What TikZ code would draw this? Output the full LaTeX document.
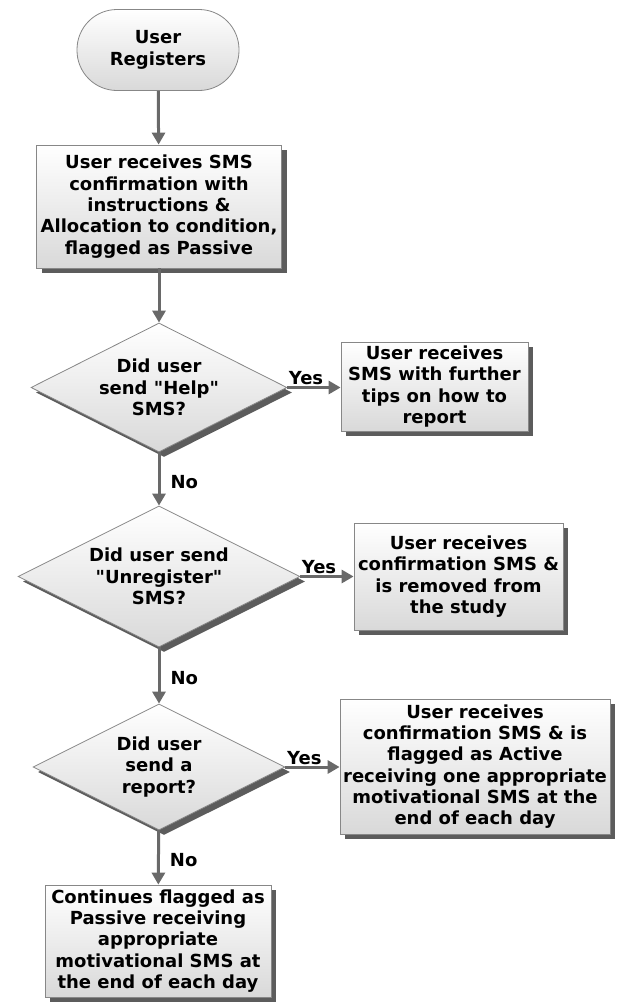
\documentclass[tikz,border=0pt]{standalone}
\usepackage{fontspec}
\setmainfont{DejaVu Sans}[Ligatures=TeXOff]
\usepackage{xcolor}
\usepackage{tikz}
\usetikzlibrary{positioning,calc,shapes.geometric,shadows,arrows.meta}
\definecolor{FlowGray}{RGB}{105,105,105}
\definecolor{EdgeGray}{RGB}{135,135,135}
\newcommand{\flowfont}{\bfseries\fontsize{18}{21.3}\selectfont}
\tikzset{
    flowbox/.style={rectangle, draw=EdgeGray, thick, top color=white, bottom color=black!15, align=center, inner sep=2pt, font=\flowfont,
        drop shadow={shadow xshift=5pt, shadow yshift=-5pt, opacity=0.75, fill=black!85}},
    flowarrow/.style={draw=FlowGray, line width=3pt, -{Triangle[length=12pt, width=13pt]}}
}

\begin{document}
\begin{tikzpicture}[
                x=1pt, y=-1pt,
                % Style for the start node (rounded, gray border)
                startnode/.style={
                    rectangle,
                    rounded corners=40pt,
                    draw=EdgeGray, thick,
                    top color=white, bottom color=black!15,
                    align=center,
                    font=\flowfont
                },
                % Style for the questions (diamond with shadow)
                question/.style={
                    diamond, aspect=2,
                    draw=EdgeGray, thick,
                    top color=white, bottom color=black!15,
                    align=center,
                    inner sep=0pt,
                    font=\flowfont,
                    drop shadow={shadow xshift=5pt, shadow yshift=-5pt, opacity=0.75, fill=black!85}
                },
                % Style for Yes / No labels on the arrows
                answer/.style={
                    font=\flowfont,
                    inner sep=1pt
                }
            ]
                \useasboundingbox (0,0) rectangle (618,1002);

                % --- NODES ---
                \node[startnode, minimum width=162pt, minimum height=81pt] (reg) at (158,50) {User\\Registers};
                \node[flowbox, minimum width=245pt, minimum height=123pt] (confirm) at (159,206.5)
                    {User receives SMS\\confirmation with\\instructions \&\\Allocation to condition,\\flagged as Passive};
                % first question
                \node[question, minimum width=256pt, minimum height=129pt] (help) at (159,387.5) {Did user\\send "Help"\\SMS?};
                \node[flowbox, minimum width=187pt, minimum height=89pt] (tips) at (434.5,386.5)
                    {User receives\\SMS with further\\tips on how to\\report};
                % second question
                \node[question, minimum width=282pt, minimum height=141pt] (unreg) at (159,576.5) {Did user send\\"Unregister"\\SMS?};
                \node[flowbox, minimum width=209pt, minimum height=107pt] (removed) at (458.5,576.5)
                    {User receives\\confirmation SMS \&\\is removed from\\the study};
                % third question
                \node[question, minimum width=252pt, minimum height=126pt] (report) at (159,767) {Did user\\send a\\report?};
                \node[flowbox, minimum width=270pt, minimum height=135pt] (active) at (475,766.5)
                    {User receives\\confirmation SMS \& is\\flagged as Active\\receiving one appropriate\\motivational SMS at the\\end of each day};
                \node[flowbox, minimum width=226pt, minimum height=112pt] (passive) at (158,941)
                    {Continues flagged as\\Passive receiving\\appropriate\\motivational SMS at\\the end of each day};

                % --- ARROWS ---
                \draw[flowarrow] (reg) -- (confirm);
                \draw[flowarrow] (confirm) -- (help);
                \draw[flowarrow] (help.east) -- node[answer, above, pos=0.35] {Yes} (help.east -| tips.west);
                \draw[flowarrow] (help) -- node[answer, right=9pt, pos=0.55] {No} (unreg);
                \draw[flowarrow] (unreg.east) -- node[answer, above, pos=0.35] {Yes} (unreg.east -| removed.west);
                \draw[flowarrow] (unreg) -- node[answer, right=9pt, pos=0.55] {No} (report);
                \draw[flowarrow] (report.east) -- node[answer, above, pos=0.35] {Yes} (report.east -| active.west);
                \draw[flowarrow] (report) -- node[answer, right=9pt, pos=0.55] {No} (passive);

            \end{tikzpicture}
\end{document}
